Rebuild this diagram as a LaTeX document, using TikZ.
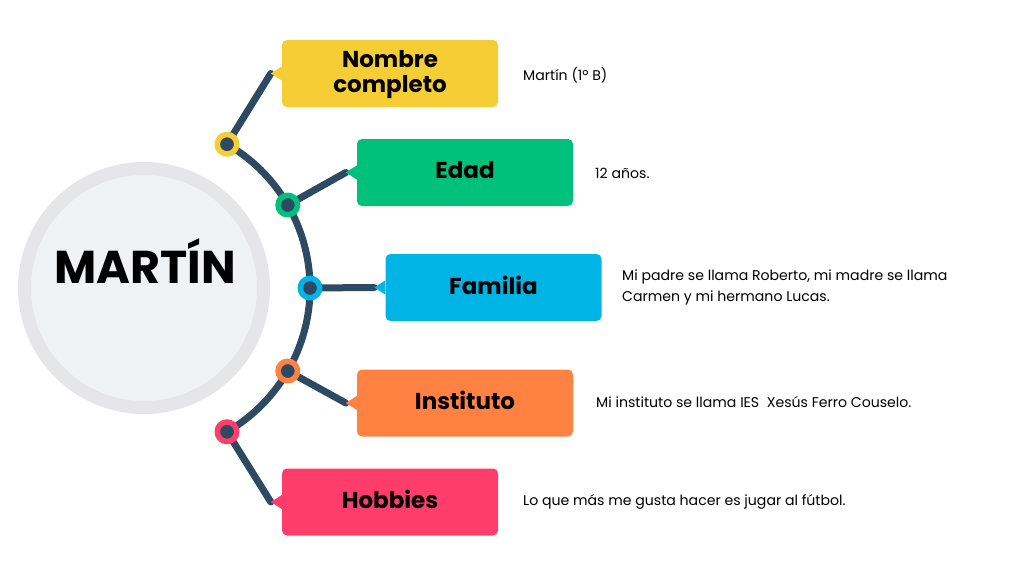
\documentclass[tikz,border=0pt]{standalone}
\usepackage{fontspec}
\setmainfont{Poppins}
\definecolor{cyellow}{HTML}{F4CE34}
\definecolor{cgreen}{HTML}{00C17C}
\definecolor{cblue}{HTML}{00B4E6}
\definecolor{corange}{HTML}{FF8243}
\definecolor{cpink}{HTML}{FF3D6B}
\definecolor{cline}{HTML}{2E4A62}
\definecolor{cring}{HTML}{E6E6E8}
\definecolor{cfill}{HTML}{F1F2F4}
\begin{document}
\begin{tikzpicture}[x=1pt,y=-1pt,line join=round,line cap=round,font=\fontsize{14.1}{21}\selectfont,scale=1]
				\tikzset{declare function={
						rc=166;
					},
					ln/.style={draw=cline,line width=7pt},
					dot/.style={circle,fill=cline,draw=#1,line width=5.5pt,minimum size=19.5pt,inner sep=0pt},
					box/.style={fill=#1,rounded corners=5pt,minimum width=216pt,minimum height=67pt,inner sep=0pt,text depth=5pt,align=center,font=\fontsize{23}{25}\selectfont\bfseries},
					txt/.style={anchor=west,inner sep=0pt,align=left}
				}
				\useasboundingbox (0,0) rectangle (1024,576);
				\node[circle,fill=cfill,draw=cring,line width=13pt,minimum size=239pt,inner sep=0pt] (O) at (144,288) {};
				\node[font=\fontsize{46}{50}\selectfont\bfseries] (ten) at (145,261) {MARTÍN};
				\draw[ln] (O.center) ++(-60:rc) arc[start angle=-60,end angle=60,radius=rc];
				\foreach \goc/\nm in {-60/a,-30/b,0/c,30/d,60/e}{
					\path (O.center) ++(\goc:rc) coordinate (p\nm);
				}
				\foreach \nm/\col/\x/\y/\txt in {a/cyellow/390/73.5/{Nombre\\completo},b/cgreen/465/172.5/Edad,c/cblue/493.5/287.5/Familia,d/corange/465/403/Instituto,e/cpink/390/502/Hobbies}{
					\node[box=\col] (b\nm) at (\x,\y) {\txt};
					\coordinate (t\nm) at ([xshift=-11pt]b\nm.west);
					\draw[ln] (p\nm)--(t\nm);
					\fill[\col] (t\nm)--++(11,-7)--++(0,14)--cycle;
				}
				\foreach \nm/\col in {a/cyellow,b/cgreen,c/cblue,d/corange,e/cpink}{
					\node[dot=\col] (d\nm) at (p\nm) {};
				}
				\node[txt] (ia) at (523,75) {Martín (1º B)};
				\node[txt] (ib) at (595,173) {12 años.};
				\node[txt] (ic) at (622,287) {Mi padre se llama Roberto, mi madre se llama\\Carmen y mi hermano Lucas.};
				\node[txt] (id) at (596,402) {Mi instituto se llama IES\ \ Xesús Ferro Couselo.};
				\node[txt] (ie) at (523,502) {Lo que más me gusta hacer es jugar al fútbol.};
			\end{tikzpicture}
\end{document}
